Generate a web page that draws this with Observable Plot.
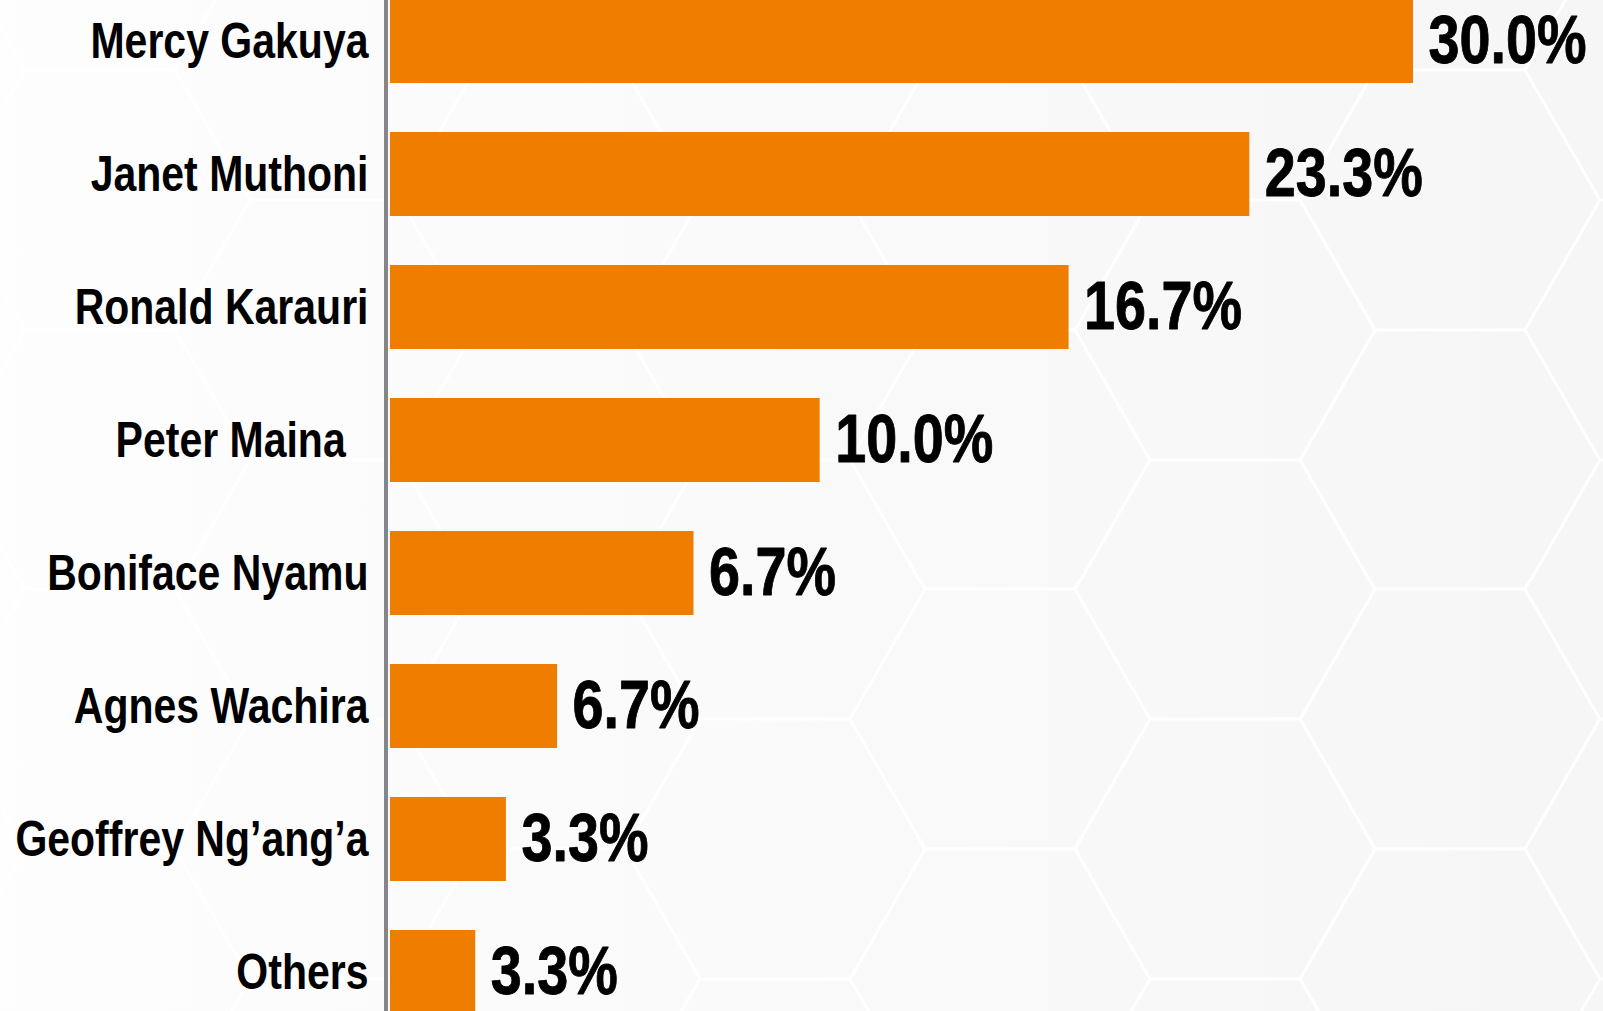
<!DOCTYPE html>
<html>
<head>
<meta charset="utf-8">
<script src="https://cdn.jsdelivr.net/npm/d3@7"></script>
<script src="https://cdn.jsdelivr.net/npm/@observablehq/plot@0.6"></script>
<style>
  html, body { margin: 0; padding: 0; overflow: hidden; background: #ffffff; }
  #chart { width: 1603px; height: 1011px; position: relative; }
  #chart svg text { white-space: pre; }
</style>
</head>
<body>
<div id="chart"></div>
<script>
// ---- data ----
const candidates = ["Mercy Gakuya", "Janet Muthoni", "Ronald Karauri", "Peter Maina  ", "Boniface Nyamu", "Agnes Wachira", "Geoffrey Ng’ang’a", "Others"];
// bar lengths as drawn in the picture (percent units)
const barLength = [30.0, 25.2, 19.9, 12.6, 8.9, 4.9, 3.4, 2.5];
// value labels as printed
const shareLabels = ["30.0%", "23.3%", "16.7%", "10.0%", "6.7%", "6.7%", "3.3%", "3.3%"];

const data = candidates.map((name, i) => ({ name, len: barLength[i], label: shareLabels[i] }));

// ---- decorative hexagon background ----
(function () {
  const s = 150, h = s * Math.sqrt(3) / 2;
  const hex = (cx, cy) => [[cx - s, cy], [cx - s / 2, cy - h], [cx + s / 2, cy - h], [cx + s, cy], [cx + s / 2, cy + h], [cx - s / 2, cy + h]]
    .map(p => p.join(",")).join(" ");
  const W = 3 * s, H = 2 * h;
  const centers = [[0, 0], [0, H], [W, 0], [W, H], [1.5 * s, h]];
  const polys = centers.map(([x, y]) => `<polygon points="${hex(x, y)}" fill="#f6f6f6" stroke="#ffffff" stroke-width="3"/>`).join("");
  const svg = `<svg xmlns="http://www.w3.org/2000/svg" width="${W}" height="${H}"><rect width="${W}" height="${H}" fill="#ffffff"/>${polys}</svg>`;
  const el = document.getElementById("chart");
  el.style.backgroundImage = `linear-gradient(to right, rgba(255,255,255,0.85), rgba(255,255,255,0.4) 50%, rgba(255,255,255,0) 100%), url("data:image/svg+xml,${encodeURIComponent(svg)}")`;
  el.style.backgroundPosition = "0 0, 100px -60px";
})();

const FONT = '"Liberation Sans Narrow", "Arial Narrow", "Liberation Sans", Arial, sans-serif';

const chart = Plot.plot({
  width: 1603,
  height: 1011,
  marginLeft: 390,
  marginRight: 0,
  marginTop: 0,
  marginBottom: 0,
  style: { background: "transparent", fontFamily: FONT, color: "#000", overflow: "visible" },
  x: { domain: [0, 30], range: [390, 1413], axis: null },
  y: { domain: candidates, range: [-4.5, 1018], paddingInner: 0.365, paddingOuter: 0, label: null },
  marks: [
    Plot.barX(data, { x: "len", y: "name", fill: "#EF7D00" }),
    Plot.ruleX([0], { stroke: "#86868a", strokeWidth: 4, dx: -4.5 }),
    Plot.text(data, {
      x: "len", y: "name", text: "label",
      textAnchor: "start", dx: 15,
      fontSize: 68, fontWeight: 700, fill: "#000", stroke: "#000", strokeWidth: 0.9, fontFamily: FONT
    }),
    Plot.axisY({ tickSize: 0, tickPadding: 22, fontSize: 50, fontWeight: 700, fill: "#000", stroke: "#000", strokeWidth: 0.6, label: null, fontFamily: FONT })
  ]
});

// condense the lettering (narrow face is not installed): scale each text horizontally around its anchor
chart.querySelectorAll("text").forEach(t => {
  const tr = t.getAttribute("transform");
  if (tr) {
    t.setAttribute("transform", tr + " scale(0.82,1)");
  } else {
    const x = +(t.getAttribute("x") || 0), y = +(t.getAttribute("y") || 0);
    t.setAttribute("transform", `translate(${x},${y}) scale(0.82,1) translate(${-x},${-y})`);
  }
});

document.getElementById("chart").appendChild(chart);
</script>
</body>
</html>
